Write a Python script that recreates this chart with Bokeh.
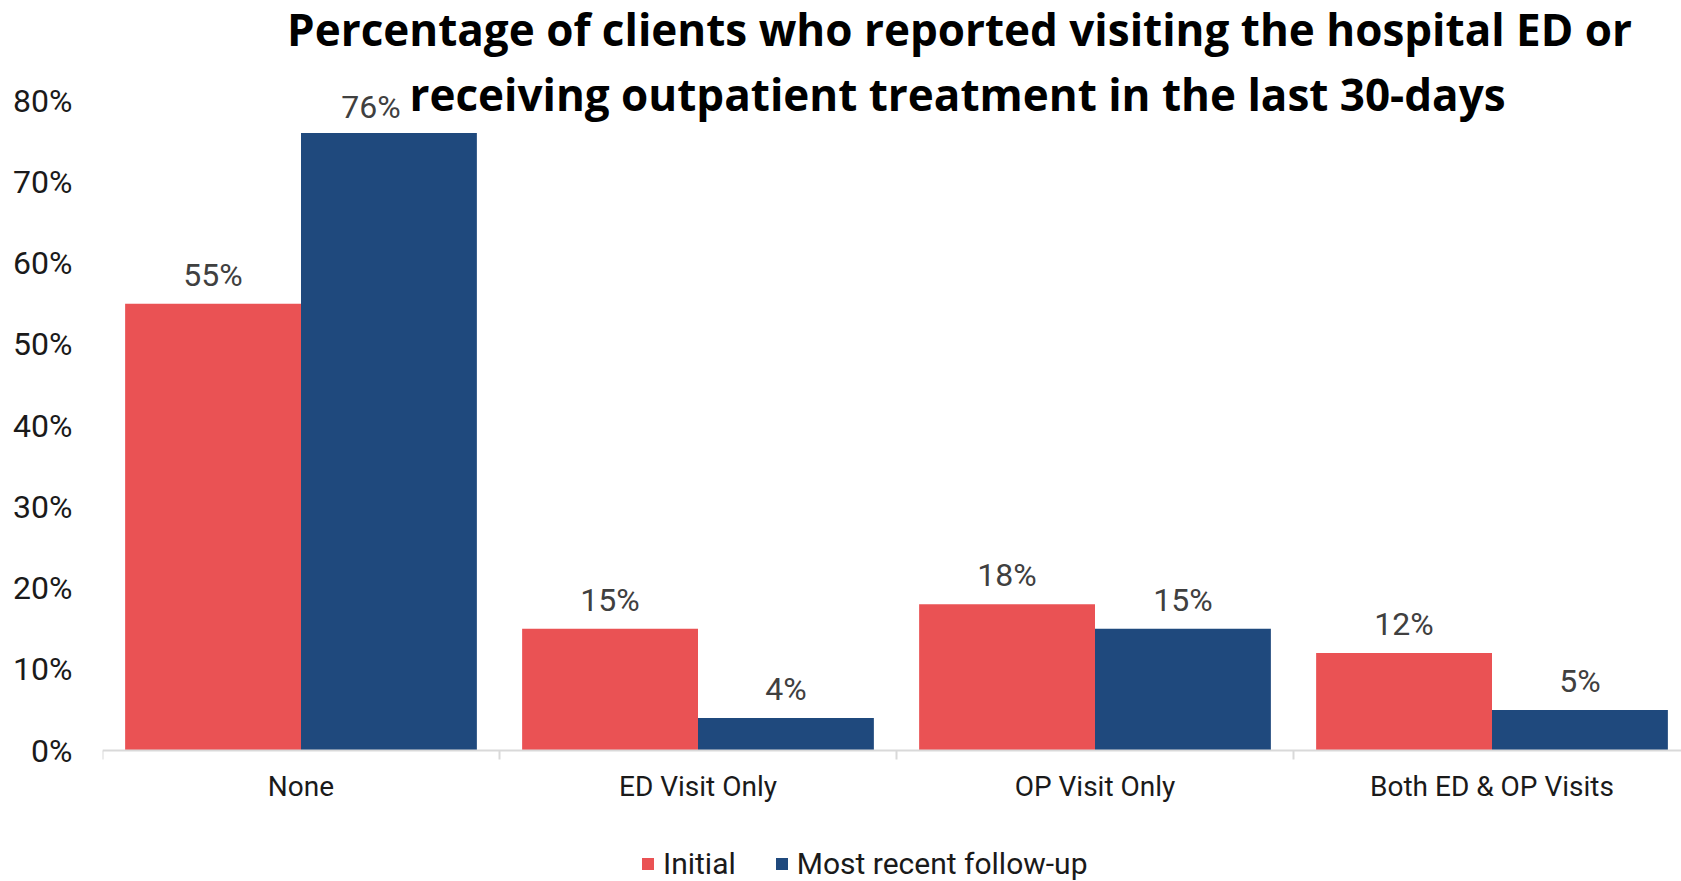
from bokeh.plotting import figure
from bokeh.models import (Range1d, FixedTicker, PrintfTickFormatter, ColumnDataSource,
                          LabelSet, Label, Legend, LegendItem, CustomJSTickFormatter)
from bokeh.core.properties import value
from bokeh.embed import file_html
from bokeh.resources import INLINE

# ---- data ----
categories = ["None", "ED Visit Only", "OP Visit Only", "Both ED & OP Visits"]
initial = [55, 15, 18, 12]
followup = [76, 4, 15, 5]
series_names = ["Initial", "Most recent follow-up"]
y_ticks = [0, 10, 20, 30, 40, 50, 60, 70, 80]
title_lines = ["Percentage of clients who reported visiting the hospital ED or",
               "receiving outpatient treatment in the last 30-days"]

RED = "#EA5254"
BLUE = "#1F497D"
FONT = "Roboto"

W, H = 1681, 881
LEFT = 102
AXIS_Y = 750          # pixel row of the 0% baseline
PX_PER_UNIT_Y = 8.125  # pixels per percentage point
CAT_W = 397            # pixels per category
frame_w = W - LEFT
y_start = -(H - AXIS_Y) / PX_PER_UNIT_Y
y_end = AXIS_Y / PX_PER_UNIT_Y

p = figure(width=W, height=H, output_backend="svg", toolbar_location=None,
           x_range=Range1d(0, frame_w / CAT_W), y_range=Range1d(y_start, y_end),
           min_border_left=LEFT, min_border_right=0, min_border_top=0,
           min_border_bottom=0)
p.outline_line_color = None
p.xgrid.visible = False
p.ygrid.visible = False
p.background_fill_color = "white"
p.border_fill_color = "white"

bw = 0.443
idx = list(range(len(categories)))
LABEL_DY = 29
# the tallest label is nudged left so it clears the title, as in the original
tallest = max(range(len(followup)), key=lambda i: followup[i])
src1 = ColumnDataSource(dict(x=[i + 0.5 - bw / 2 for i in idx], top=initial,
                             lab=[f"{v}%" for v in initial],
                             dx=[0] * len(idx), dy=[LABEL_DY] * len(idx)))
src2 = ColumnDataSource(dict(x=[i + 0.5 + bw / 2 for i in idx], top=followup,
                             lab=[f"{v}%" for v in followup],
                             dx=[-18 if i == tallest else 0 for i in idx],
                             dy=[LABEL_DY - 3 if i == tallest else LABEL_DY for i in idx]))

r1 = p.vbar(x="x", top="top", bottom=0, width=bw, source=src1, fill_color=RED, line_color=None)
r2 = p.vbar(x="x", top="top", bottom=0, width=bw, source=src2, fill_color=BLUE, line_color=None)

for s in (src1, src2):
    p.add_layout(LabelSet(x="x", y="top", text="lab", source=s, text_align="center",
                          text_baseline="middle", x_offset="dx", y_offset="dy",
                          text_font=value(FONT),
                          text_font_size=value("32px"), text_color="#404040"))

# x axis, drawn at the 0 line
xa = p.xaxis[0]
xa.fixed_location = 0
xa.ticker = FixedTicker(ticks=[i + 0.5 for i in idx], minor_ticks=[0, 1, 2, 3, 4])
xa.formatter = CustomJSTickFormatter(args=dict(names=categories),
                                     code="return names[Math.floor(tick)];")
xa.axis_line_color = "#D9D9D9"
xa.axis_line_width = 2
xa.major_tick_in = 0
xa.major_tick_out = 0
xa.minor_tick_in = 0
xa.minor_tick_out = 9
xa.minor_tick_line_color = "#D9D9D9"
xa.minor_tick_line_width = 2
xa.major_label_text_font = FONT
xa.major_label_text_font_size = "28px"
xa.major_label_text_color = "#1a1a1a"
xa.major_label_standoff = 10

# y axis
ya = p.yaxis[0]
ya.ticker = FixedTicker(ticks=y_ticks)
ya.formatter = PrintfTickFormatter(format="%d%%")
ya.axis_line_color = None
ya.major_tick_line_color = None
ya.minor_tick_line_color = None
ya.major_label_text_font = FONT
ya.major_label_text_font_size = "32px"
ya.major_label_text_color = "#1a1a1a"
ya.major_label_standoff = 24

# title (two lines, overlapping the top of the plot like the original)
for line, cx, base in zip(title_lines, [959, 957], [28, 93]):
    p.add_layout(Label(x=cx - LEFT, y=H - base, x_units="screen", y_units="screen",
                       text=line, text_align="center", text_baseline="alphabetic",
                       text_font="Open Sans", text_font_size="44px",
                       text_font_style="bold", text_color="black"))

legend = Legend(items=[LegendItem(label=series_names[0], renderers=[r1]),
                       LegendItem(label=series_names[1], renderers=[r2])],
                orientation="horizontal", location=(538, 0),
                glyph_width=15, glyph_height=15, label_standoff=8, spacing=38,
                padding=0, margin=0, border_line_color=None, background_fill_alpha=0,
                label_text_font=FONT, label_text_font_size="30px",
                label_text_color="#1a1a1a")
p.add_layout(legend, "center")

open("out.html", "w").write(file_html(p, INLINE))
